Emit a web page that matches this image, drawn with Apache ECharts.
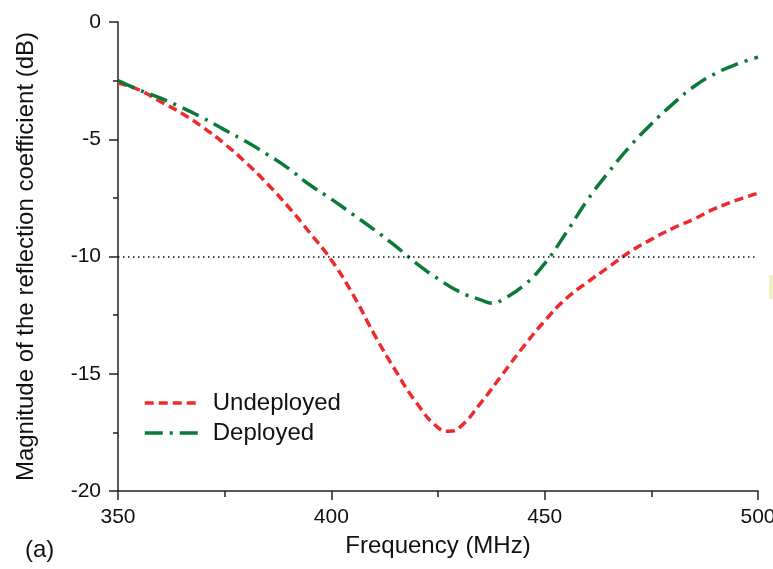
<!DOCTYPE html>
<html>
<head>
<meta charset="utf-8">
<script src="https://cdn.jsdelivr.net/npm/echarts@6/dist/echarts.min.js"></script>
<style>html,body{margin:0;padding:0;background:#fff;}#c{width:773px;height:569px;}</style>
</head>
<body>
<div id="c"></div>
<script>
var undeployedFreq = [350,355,360,365,370,375,380,385,390,395,400,405,410,415,420,425,427.5,430,435,440,445,450,455,460,465,470,475,480,485,490,495,500];
var undeployedDb  = [-2.6,-2.9,-3.4,-3.9,-4.5,-5.2,-6.0,-6.9,-7.9,-9.0,-10.15,-11.6,-13.3,-14.85,-16.25,-17.3,-17.45,-17.3,-16.25,-15.05,-13.85,-12.75,-11.8,-11.1,-10.45,-9.8,-9.27,-8.8,-8.4,-7.95,-7.6,-7.3];
var deployedFreq = [350,355,360,365,370,375,380,385,390,395,400,405,410,415,420,425,430,435,438,440,445,450,455,460,465,470,475,480,485,490,495,500];
var deployedDb  = [-2.5,-2.9,-3.25,-3.65,-4.1,-4.6,-5.1,-5.65,-6.25,-6.95,-7.55,-8.2,-8.85,-9.55,-10.3,-10.95,-11.5,-11.85,-12.0,-11.85,-11.25,-10.3,-9.0,-7.6,-6.4,-5.3,-4.35,-3.5,-2.75,-2.2,-1.8,-1.5];
var thresholdDb = -10;
var seriesNames = ['Undeployed', 'Deployed'];
var xTitle = 'Frequency (MHz)';
var yTitle = 'Magnitude of the reflection coefficient (dB)';
var panelLabel = '(a)';

function pairs(xs, ys){ return xs.map(function(x,i){ return [x, ys[i]]; }); }

var chart = echarts.init(document.getElementById('c'));
var font = '"Liberation Sans", Arial, sans-serif';
chart.setOption({
  animation: false,
  backgroundColor: '#ffffff',
  grid: { left: 118, right: 15, top: 22, bottom: 78, containLabel: false, outerBoundsMode: 'none' },
  xAxis: {
    type: 'value', min: 350, max: 500, interval: 50,
    name: xTitle, nameLocation: 'middle', nameGap: 43,
    nameTextStyle: { fontFamily: font, fontSize: 24, color: '#111' },
    axisLine: { show: true, onZero: false, lineStyle: { color: '#222', width: 1.5 } },
    axisTick: { show: true, inside: false, length: 9, lineStyle: { color: '#222', width: 1.5 } },
    minorTick: { show: true, splitNumber: 2, length: 6, lineStyle: { color: '#222', width: 1.5 } },
    axisLabel: { fontFamily: font, fontSize: 21, color: '#111', margin: 16, hideOverlap: false },
    splitLine: { show: false }
  },
  yAxis: {
    type: 'value', min: -20, max: 0, interval: 5,
    name: yTitle, nameLocation: 'middle', nameGap: 80, nameRotate: 90,
    nameTextStyle: { fontFamily: font, fontSize: 24, color: '#111' },
    axisLine: { show: true, onZero: false, lineStyle: { color: '#222', width: 1.5 } },
    axisTick: { show: true, inside: false, length: 9, lineStyle: { color: '#222', width: 1.5 } },
    minorTick: { show: true, splitNumber: 2, length: 5, lineStyle: { color: '#222', width: 1.5 } },
    axisLabel: { fontFamily: font, fontSize: 21, color: '#111', margin: 17 },
    splitLine: { show: false }
  },
  legend: {
    orient: 'vertical', left: 138, top: 386,
    itemWidth: 56, itemHeight: 14, itemGap: 6,
    itemStyle: { opacity: 0 },
    lineStyle: { width: 3.5 },
    textStyle: { fontFamily: font, fontSize: 24, color: '#111', padding: [0,0,0,7] },
    data: seriesNames
  },
  series: [
    {
      name: seriesNames[0], type: 'line', data: pairs(undeployedFreq, undeployedDb),
      smooth: 0.5, symbol: 'none', showSymbol: false,
      itemStyle: { color: '#ee2a2c' },
      lineStyle: { color: '#ee2a2c', width: 3.5, type: [9, 5] },
      markLine: {
        silent: true, symbol: 'none', label: { show: false },
        lineStyle: { color: '#111', width: 1.5, type: [1.5, 3.5] },
        data: [ [ { coord: [350, thresholdDb] }, { coord: [500, thresholdDb] } ] ]
      },
      z: 3
    },
    {
      name: seriesNames[1], type: 'line', data: pairs(deployedFreq, deployedDb),
      smooth: 0.5, symbol: 'none', showSymbol: false,
      itemStyle: { color: '#0a7a38' },
      lineStyle: { color: '#0a7a38', width: 3.5, type: [18, 7, 3, 7] },
      z: 4
    }
  ],
  graphic: [
    { type: 'text', left: 25, top: 538, style: { text: panelLabel, font: '24px ' + font, fill: '#111' } },
    { type: 'rect', shape: { x: 769, y: 275, width: 4, height: 24 }, style: { fill: '#eef2c4' } }
  ]
});
</script>
</body>
</html>
